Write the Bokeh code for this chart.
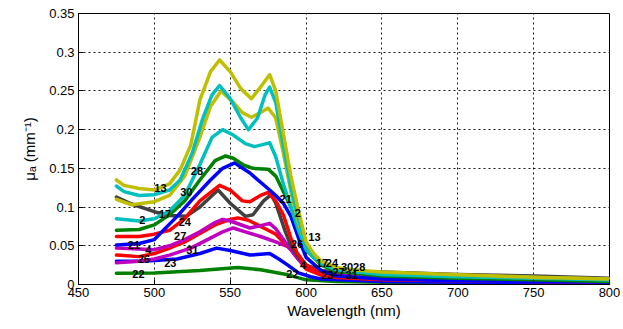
from bokeh.plotting import figure
from bokeh.models import Range1d, FixedTicker
from bokeh.embed import file_html
from bokeh.resources import INLINE
from bokeh.core.properties import value

# ---------------- data ----------------
x_ticks = [450, 500, 550, 600, 650, 700, 750, 800]
x_tick_labels = ["450", "500", "550", "600", "650", "700", "750", "800"]
y_ticks = [0, 0.05, 0.1, 0.15, 0.2, 0.25, 0.3, 0.35]
y_tick_labels = ["0", "0.05", "0.1", "0.15", "0.2", "0.25", "0.3", "0.35"]

# curve 13 (olive, top)
wl_13 = [475, 480, 490, 500, 510, 517, 524, 530, 537, 543, 550, 557, 564, 570, 576, 580, 585, 590, 595, 600, 605, 610, 620, 630, 650, 700, 750, 800]
mu_13 = [0.135, 0.128, 0.124, 0.122, 0.13, 0.148, 0.18, 0.238, 0.275, 0.29, 0.275, 0.253, 0.24, 0.255, 0.271, 0.25, 0.195, 0.14, 0.095, 0.055, 0.04, 0.03, 0.022, 0.019, 0.016, 0.0125, 0.0095, 0.007]
# curve 28 (cyan, top)
wl_28 = [475, 480, 490, 500, 510, 517, 525, 532, 538, 543, 550, 557, 562, 568, 573, 576, 580, 585, 590, 595, 600, 605, 610, 620, 630, 650, 700, 750, 800]
mu_28 = [0.127, 0.12, 0.115, 0.116, 0.122, 0.135, 0.17, 0.215, 0.245, 0.257, 0.24, 0.215, 0.2, 0.215, 0.245, 0.255, 0.235, 0.18, 0.125, 0.085, 0.05, 0.035, 0.027, 0.02, 0.017, 0.014, 0.011, 0.009, 0.006]
# curve 30 (olive, second)
wl_30 = [475, 485, 500, 510, 520, 530, 537, 544, 552, 558, 564, 570, 575, 580, 585, 590, 595, 600, 605, 610, 620, 630, 650, 700, 750, 800]
mu_30 = [0.11, 0.103, 0.107, 0.115, 0.14, 0.19, 0.23, 0.25, 0.235, 0.222, 0.216, 0.222, 0.228, 0.215, 0.17, 0.12, 0.08, 0.05, 0.037, 0.028, 0.021, 0.018, 0.015, 0.012, 0.009, 0.007]
# curve 2 (cyan, second)
wl_2 = [475, 490, 500, 510, 520, 530, 538, 545, 552, 560, 566, 572, 576, 580, 585, 590, 595, 600, 610, 620, 650, 700, 750, 800]
mu_2 = [0.085, 0.082, 0.085, 0.095, 0.115, 0.155, 0.19, 0.2, 0.193, 0.182, 0.178, 0.181, 0.183, 0.165, 0.13, 0.1, 0.07, 0.045, 0.027, 0.019, 0.013, 0.01, 0.008, 0.006]
# curve 24 (green)
wl_24 = [475, 490, 500, 510, 520, 530, 540, 547, 552, 559, 565, 575, 580, 590, 595, 600, 610, 620, 650, 700, 750, 800]
mu_24 = [0.07, 0.071, 0.077, 0.09, 0.108, 0.135, 0.16, 0.166, 0.163, 0.154, 0.15, 0.149, 0.14, 0.1, 0.07, 0.045, 0.025, 0.017, 0.011, 0.008, 0.006, 0.004]
# curve 21 (blue)
wl_21 = [475, 490, 500, 515, 525, 537, 545, 553, 563, 570, 576, 580, 585, 590, 595, 600, 610, 620, 650, 700, 750, 800]
mu_21 = [0.051, 0.053, 0.058, 0.088, 0.11, 0.135, 0.15, 0.157, 0.144, 0.132, 0.122, 0.115, 0.105, 0.088, 0.06, 0.035, 0.018, 0.011, 0.007, 0.005, 0.004, 0.003]
# curve 27 (red)
wl_27 = [475, 490, 500, 510, 520, 530, 543, 550, 558, 563, 570, 575, 580, 585, 590, 594, 600, 610, 620, 650, 700, 750, 800]
mu_27 = [0.062, 0.062, 0.065, 0.07, 0.085, 0.108, 0.128, 0.122, 0.108, 0.107, 0.115, 0.119, 0.108, 0.09, 0.06, 0.041, 0.025, 0.014, 0.01, 0.007, 0.006, 0.005, 0.004]
# curve 17 (dark grey)
wl_17 = [475, 485, 500, 510, 521, 530, 542, 550, 560, 565, 572, 577, 580, 586, 590, 595, 600, 610, 620, 650, 700, 750, 800]
mu_17 = [0.113, 0.104, 0.094, 0.089, 0.088, 0.1, 0.122, 0.105, 0.088, 0.09, 0.108, 0.116, 0.105, 0.07, 0.05, 0.035, 0.025, 0.018, 0.016, 0.016, 0.013, 0.011, 0.008]
# curve 26 (red, second)
wl_26 = [475, 490, 500, 510, 520, 530, 540, 550, 555, 562, 570, 575, 580, 590, 600, 610, 620, 650, 700, 750, 800]
mu_26 = [0.038, 0.036, 0.04, 0.047, 0.055, 0.066, 0.077, 0.084, 0.086, 0.083, 0.075, 0.07, 0.065, 0.045, 0.02, 0.012, 0.009, 0.006, 0.005, 0.004, 0.003]
# curve 4 (magenta)
wl_4 = [475, 490, 500, 510, 520, 530, 540, 545, 550, 563, 570, 576, 580, 590, 595, 600, 610, 620, 650, 700, 750, 800]
mu_4 = [0.047, 0.046, 0.045, 0.05, 0.058, 0.068, 0.08, 0.084, 0.082, 0.073, 0.076, 0.079, 0.072, 0.045, 0.032, 0.024, 0.016, 0.013, 0.01, 0.008, 0.007, 0.005]
# curve 31 (magenta, second)
wl_31 = [475, 490, 500, 510, 524, 535, 545, 552, 560, 570, 580, 588, 595, 600, 610, 620, 650, 700, 750, 800]
mu_31 = [0.028, 0.03, 0.033, 0.038, 0.047, 0.058, 0.068, 0.073, 0.068, 0.062, 0.055, 0.049, 0.035, 0.025, 0.015, 0.011, 0.009, 0.007, 0.006, 0.005]
# curve 23 (blue, second)
wl_23 = [475, 490, 500, 515, 530, 541, 550, 563, 570, 576, 582, 588, 595, 603, 610, 650, 700, 750, 800]
mu_23 = [0.03, 0.03, 0.031, 0.033, 0.04, 0.047, 0.044, 0.038, 0.039, 0.04, 0.033, 0.025, 0.015, 0.01, 0.007, 0.004, 0.003, 0.003, 0.002]
# curve 22 (green, bottom)
wl_22 = [475, 500, 530, 555, 570, 588, 600, 620, 650, 700, 800]
mu_22 = [0.0145, 0.015, 0.018, 0.022, 0.019, 0.0125, 0.006, 0.004, 0.003, 0.0025, 0.002]

# curve labels
label_text = ["13", "13", "28", "30", "2", "2", "17", "24", "27", "21", "21", "4", "4", "4",
              "26", "26", "31", "23", "22", "22",
              "17", "24", "30", "28", "23", "27", "31"]
label_x = [500, 601.5, 524, 517, 490, 592.5, 503, 516, 513, 482.5, 582.5, 494, 596, 801,
           489, 590, 521, 506.5, 485.5, 587,
           606.5, 613, 623, 631, 610, 617.5, 626]
label_y = [0.125, 0.061, 0.146, 0.12, 0.083, 0.092, 0.091, 0.081, 0.063, 0.051, 0.111, 0.045, 0.025, 0.003,
           0.033, 0.052, 0.045, 0.028, 0.014, 0.014,
           0.028, 0.028, 0.022, 0.023, 0.012, 0.016, 0.012]

# ---------------- figure ----------------
p = figure(width=620, height=321, output_backend="svg", toolbar_location=None,
           x_range=Range1d(450, 800), y_range=Range1d(0, 0.35),
           min_border_left=78, min_border_top=13, min_border_right=11, min_border_bottom=36)
p.background_fill_color = "white"
p.border_fill_color = "white"
p.outline_line_color = "black"
p.outline_line_width = 1

olive = "#BFBF00"
cyan = "#00BFBF"
green = "#008000"
blue = "#0000FF"
red = "#FF0000"
grey = "#404040"
magenta = "#BF00BF"

curves = [
    (wl_22, mu_22, green), (wl_23, mu_23, blue), (wl_31, mu_31, magenta), (wl_26, mu_26, red),
    (wl_4, mu_4, magenta), (wl_17, mu_17, grey), (wl_27, mu_27, red), (wl_21, mu_21, blue),
    (wl_24, mu_24, green), (wl_2, mu_2, cyan), (wl_30, mu_30, olive), (wl_28, mu_28, cyan),
    (wl_13, mu_13, olive),
]
for wl, mu, c in curves:
    p.line(wl, mu, line_color=c, line_width=3.5, line_join="round", line_cap="round")

p.text(x=label_x, y=label_y, text=label_text, text_font=value("Liberation Sans"),
       text_font_size="11px", text_font_style="bold", text_color="black",
       text_align="left", text_baseline="middle")

for ax in (p.xaxis[0], p.yaxis[0]):
    ax.major_label_text_font = "Liberation Sans"
    ax.major_label_text_font_size = "13px"
    ax.major_label_text_color = "black"
    ax.axis_label_text_font = "Liberation Sans"
    ax.axis_label_text_font_size = "15px"
    ax.axis_label_text_font_style = "normal"
    ax.axis_label_text_color = "black"
    ax.axis_line_color = "black"
    ax.major_tick_line_color = "black"
    ax.major_tick_in = 5
    ax.major_tick_out = 0
    ax.minor_tick_line_color = None

p.xaxis.ticker = FixedTicker(ticks=x_ticks)
p.yaxis.ticker = FixedTicker(ticks=y_ticks)
p.xaxis.major_label_overrides = {t: s for t, s in zip(x_ticks, x_tick_labels)}
p.yaxis.major_label_overrides = {t: s for t, s in zip(y_ticks, y_tick_labels)}
p.xaxis.axis_label = "Wavelength (nm)"
p.yaxis.axis_label = "μₐ (mm⁻¹)"
p.xaxis.major_label_standoff = 3
p.xaxis.axis_label_standoff = 2
p.yaxis.major_label_standoff = 4
p.yaxis.axis_label_standoff = 8

for g in (p.xgrid[0], p.ygrid[0]):
    g.grid_line_color = "black"
    g.grid_line_dash = "2 3"
    g.grid_line_width = 1
    g.grid_line_alpha = 0.9

open("out.html", "w").write(file_html(p, INLINE))
